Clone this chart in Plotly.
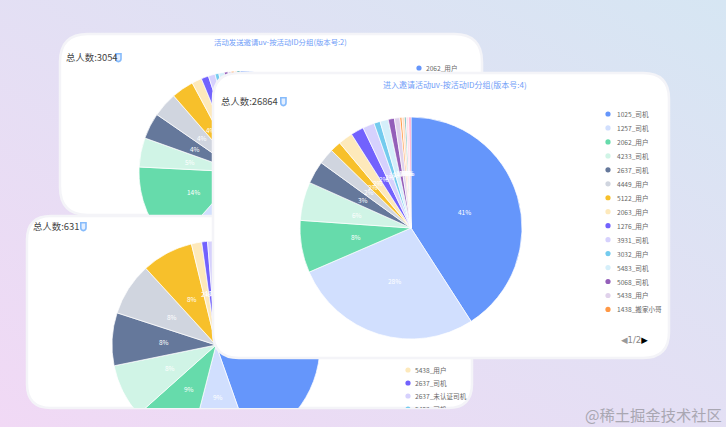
import base64
import json
import math
import plotly.graph_objects as go

WIDTH, HEIGHT = 726, 427
FONT = "Noto Sans CJK SC"

# Shared slice palette
palette = ["#6596FB", "#D1DFFE", "#66DBAB", "#D0F4E6", "#65789B", "#D0D5DF", "#F7C02B",
           "#FDE9BB", "#7262FD", "#D6D1FD", "#74CBEE", "#D5EFFA", "#945FB9", "#E0D2EB",
           "#FF9845", "#FFE0C7", "#1E9493", "#FFE0ED", "#FF99C3"]

# Version 2 panel
send_labels = ["2062_用户", "1257_司机", "4233_司机", "2637_司机", "4449_用户", "5122_用户", "2063_用户",
               "1276_用户", "3931_司机", "3032_用户", "5483_司机", "5068_司机", "5438_用户",
               "1438_搬家小哥", "其他_1", "其他_2", "其他_3"]
send_values = [45.0, 17.0, 14.4, 4.7, 4.2, 4.0, 3.6, 1.6, 1.2, 1.1, 0.6, 0.9, 0.6, 0.5, 0.5, 0.4, 0.5]

# Third panel, total 631
group_labels = ["1025_司机", "1257_司机", "2062_用户", "4233_司机", "2637_司机", "4449_用户", "5122_用户",
                "5438_用户", "2637_司机 ", "2637_未认证司机"]
group_values = [44.6, 9.4, 9.4, 8.4, 8.2, 8.2, 8.0, 1.6, 0.9, 1.3]

# Version 4 panel
enter_labels = ["1025_司机", "1257_司机", "2062_用户", "4233_司机", "2637_司机", "4449_用户", "5122_用户",
                "2063_用户", "1276_用户", "3931_司机", "3032_用户", "5483_司机", "5068_司机", "5438_用户",
                "1438_搬家小哥", "其他_1", "其他_2", "其他_3", "其他_4"]
enter_values = [40.9, 27.6, 7.6, 5.6, 3.3, 2.3, 1.6, 2.1, 1.9, 1.7, 0.9, 1.2, 0.9, 0.8, 0.3, 0.4, 0.2, 0.4, 0.3]

group_legend = ["5438_用户", "2637_司机", "2637_未认证司机", "5483_司机"]
group_legend_colors = ["#FDE9BB", "#7262FD", "#D6D1FD", "#74CBEE"]
enter_legend = enter_labels[:15]
send_legend = ["2062_用户"]

panels = [
    dict(rect=(60, 34, 482, 215), radius=28, center=(240, 172), r=101,
         labels=send_labels, values=send_values, colors=palette[:17],
         total="总人数:3054", total_xy=(66, 57), icon=(115, 53), title_size=7.4,
         title="活动发送邀请uv-按活动ID分组(版本号:2)", title_xy=(280, 41),
         legend=send_legend, legend_colors=["#6596FB"], legend_x=(419, 426), legend_y=68),
    dict(rect=(27, 216, 472, 408), radius=24, center=(216, 345), r=104,
         labels=group_labels, values=group_values, colors=palette[:10],
         total="总人数:631", total_xy=(33, 226), icon=(80, 222), title_size=None,
         title=None, title_xy=None,
         legend=group_legend, legend_colors=group_legend_colors, legend_x=(408, 415), legend_y=370),
    dict(rect=(213, 73, 669, 358), radius=26, center=(411, 228), r=111,
         labels=enter_labels, values=enter_values, colors=palette,
         total="总人数:26864", total_xy=(221, 101), icon=(280, 97), title_size=8.0,
         title="进入邀请活动uv-按活动ID分组(版本号:4)", title_xy=(455, 84),
         legend=enter_legend, legend_colors=palette[:15], legend_x=(608, 617), legend_y=114),
]

LEGEND_STEP = [13.96, 13.0, 13.96]


def px(x):
    return x / WIDTH


def py(y):
    return 1 - y / HEIGHT


def rounded(x0, y0, x1, y1, r):
    """Rounded rectangle as an SVG path in paper coordinates."""
    p = lambda x, y: f"{px(x):.5f},{py(y):.5f}"
    return (f"M{p(x0 + r, y0)} L{p(x1 - r, y0)} Q{p(x1, y0)} {p(x1, y0 + r)} "
            f"L{p(x1, y1 - r)} Q{p(x1, y1)} {p(x1 - r, y1)} L{p(x0 + r, y1)} "
            f"Q{p(x0, y1)} {p(x0, y1 - r)} L{p(x0, y0 + r)} Q{p(x0, y0)} {p(x0 + r, y0)} Z")


def badge(x, y):
    """Small shield-like badge shown after each total."""
    p = lambda a, b: f"{px(x + a):.5f},{py(y + b):.5f}"
    return (f"M{p(0.8, 0.8)} L{p(6, 0.8)} L{p(6, 6)} Q{p(6, 8.2)} {p(3.4, 8.6)} "
            f"Q{p(0.8, 8.2)} {p(0.8, 6)} Z")


gradient = (
    '<svg xmlns="http://www.w3.org/2000/svg" width="726" height="427">'
    '<defs><linearGradient id="g" x1="0" y1="1" x2="1" y2="0">'
    '<stop offset="0" stop-color="#F1D9F5"/><stop offset="1" stop-color="#D6E6F3"/>'
    '</linearGradient></defs><rect width="726" height="427" fill="url(#g)"/></svg>'
)
bg_uri = "data:image/svg+xml;base64," + base64.b64encode(gradient.encode()).decode()

fig = go.Figure()
shapes, annotations, members = [], [], []


def note(text, x, y, size, color, anchor="left", family=FONT):
    annotations.append(dict(text=text, x=px(x), y=py(y), xref="paper", yref="paper",
                            showarrow=False, xanchor=anchor, yanchor="middle",
                            font=dict(size=size, color=color, family=family),
                            borderpad=0, borderwidth=0))
    return len(annotations) - 1


for idx, panel in enumerate(panels):
    cx, cy = panel["center"]
    r = panel["r"]
    # Plotly keeps pie domains inside the paper, so an overhanging pie is moved after drawing
    shift = max(0, cy + r - HEIGHT)
    dcy = cy - shift
    fig.add_trace(go.Pie(
        labels=panel["labels"], values=panel["values"], sort=False, direction="clockwise",
        rotation=0, textinfo="none", showlegend=False,
        marker=dict(colors=panel["colors"], line=dict(color="#FFFFFF", width=0.7)),
        domain=dict(x=[px(cx - r), px(cx + r)], y=[py(dcy + r), py(dcy - r)]),
    ))

    x0, y0, x1, y1 = panel["rect"]
    card = len(shapes)
    shapes.append(dict(type="path", path=rounded(x0, y0, x1, y1, panel["radius"]), xref="paper", yref="paper",
                       fillcolor="#FFFFFF", line=dict(color="#F4F4F8", width=2.5), layer="above"))
    extra = []
    for step, color in enumerate(panel["legend_colors"]):
        y = panel["legend_y"] + step * LEGEND_STEP[idx]
        dx = panel["legend_x"][0]
        extra.append(len(shapes))
        shapes.append(dict(type="circle", xref="paper", yref="paper", layer="above",
                           x0=px(dx - 2.6), x1=px(dx + 2.6), y0=py(y + 2.6), y1=py(y - 2.6),
                           fillcolor=color, line=dict(width=0)))
    ix, iy = panel["icon"]
    extra.append(len(shapes))
    shapes.append(dict(type="path", path=badge(ix, iy), xref="paper", yref="paper",
                       fillcolor="#E4EFFF", line=dict(color="#86BBFB", width=1.6), layer="above"))

    notes = []
    # Percent labels sit halfway along each slice's middle angle
    total = sum(panel["values"])
    running = 0.0
    for value in panel["values"]:
        angle = math.radians((running + value / 2) / total * 360)
        running += value
        notes.append(note(f"{round(value / total * 100)}%", cx + 0.5 * r * math.sin(angle),
                          cy - 0.5 * r * math.cos(angle), 6.5, "#FFFFFF", "center"))
    notes.append(note(panel["total"], *panel["total_xy"], 9.4, "#444444"))
    if panel["title"]:
        notes.append(note(panel["title"], *panel["title_xy"], panel["title_size"], "#6F9DF8", "center"))
    for step, name in enumerate(panel["legend"]):
        notes.append(note(name, panel["legend_x"][1], panel["legend_y"] + step * LEGEND_STEP[idx], 6.6, "#666666"))
    if idx == 2:
        notes.append(note('<span style="color:#999999">◀</span>1/2<span style="color:#000000">▶</span>',
                          634.5, 340, 8.5, "#888888", "center", "DejaVu Sans"))
    members.append(dict(card=card, shapes=extra, notes=notes, shift=shift))

note("@稀土掘金技术社区", 722, 414, 15.3, "#A9A7B2", "right")

fig.update_layout(
    width=WIDTH, height=HEIGHT, margin=dict(l=0, r=0, t=0, b=0), showlegend=False,
    paper_bgcolor="#E5E0F4", font=dict(family=FONT),
    images=[dict(source=bg_uri, xref="paper", yref="paper", x=0, y=1, sizex=1, sizey=1,
                 sizing="stretch", layer="below")],
    shapes=shapes, annotations=annotations,
)

# Stack each panel as a unit (card, pie, labels), trimmed to its own rounded card
stacking = """
var gd = document.getElementById('{plot_id}');
var groups = __MEMBERS__;
var NS = 'http://www.w3.org/2000/svg';
var pieLayer = gd.querySelector('.pielayer');
var traces = pieLayer.querySelectorAll('.trace');
var defs = gd.querySelector('defs');
groups.forEach(function (m, i) {
  var outer = document.createElementNS(NS, 'g');
  var inner = document.createElementNS(NS, 'g');
  var card = gd.querySelector('.shapelayer path[data-index="' + m.card + '"]');
  var clip = document.createElementNS(NS, 'clipPath');
  clip.setAttribute('id', 'panel-clip-' + i);
  var cp = document.createElementNS(NS, 'path');
  cp.setAttribute('d', card.getAttribute('d'));
  clip.appendChild(cp);
  defs.appendChild(clip);
  inner.setAttribute('clip-path', 'url(#panel-clip-' + i + ')');
  outer.appendChild(card);
  outer.appendChild(inner);
  if (m.shift) { traces[i].setAttribute('transform', 'translate(0,' + m.shift + ')'); }
  inner.appendChild(traces[i]);
  m.shapes.forEach(function (n) {
    inner.appendChild(gd.querySelector('.shapelayer path[data-index="' + n + '"]'));
  });
  m.notes.forEach(function (n) {
    inner.appendChild(gd.querySelector('.annotation[data-index="' + n + '"]'));
  });
  pieLayer.appendChild(outer);
});
""".replace("__MEMBERS__", json.dumps(members))

fig.write_html("out.html", post_script=stacking, config=dict(displayModeBar=False, responsive=False))
